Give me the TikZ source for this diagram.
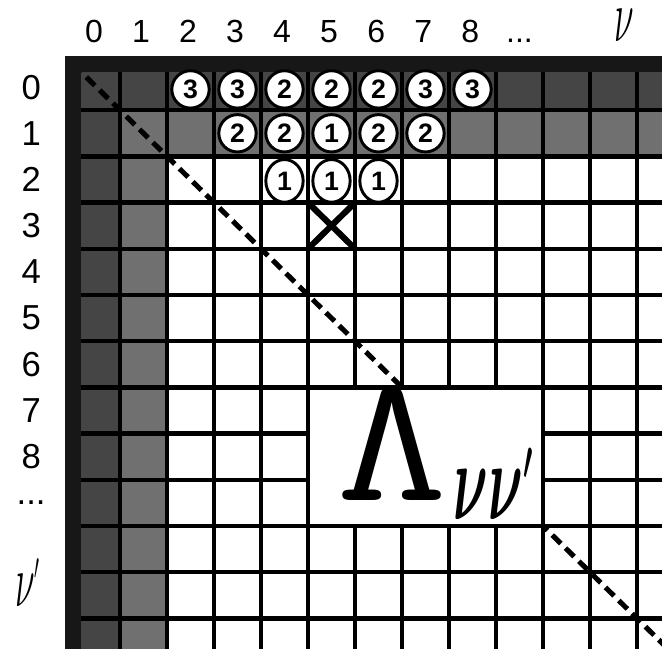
\RequirePackage{fix-cm}
\documentclass[tikz,border=0pt]{standalone}
\usepackage{amsmath,amssymb}
\usepackage[no-math]{fontspec}
\setmainfont{Liberation Sans}
\usepackage{xcolor}
\usepackage{tikz}
\usetikzlibrary{shapes.geometric}

\definecolor{cellDark}{gray}{0.27}
\definecolor{cellMid}{gray}{0.44}
\definecolor{rimBlack}{gray}{0.09}

\begin{document}
\begin{tikzpicture}[
  x=35.25pt, y=-34.65pt,
  gridline/.style={line width=3.2pt, black},
  rim/.style={line width=11.5pt, rimBlack},
  diag/.style={line width=3.8pt, dash pattern=on 9pt off 5pt},
  lbox/.style={line width=3.2pt, draw=black, fill=white},
  cross/.style={line width=4.6pt},
  cnum/.style={circle, draw, fill=white, line width=2.2pt, minimum size=28pt, inner sep=0pt, font=\fontsize{20}{20}\selectfont\bfseries},
  onum/.style={ellipse, draw, fill=white, line width=2.2pt, minimum width=28pt, minimum height=32pt, inner sep=0pt, font=\fontsize{20}{20}\selectfont\bfseries},
  collab/.style={anchor=base, inner sep=0pt, font=\fontsize{24}{24}\selectfont},
  rowlab/.style={inner sep=0pt, font=\fontsize{26}{26}\selectfont},
  nulab/.style={inner sep=0pt, font=\fontsize{56}{56}\selectfont},
  lamtxt/.style={anchor=base, inner sep=0pt, font=\fontsize{135}{135}\selectfont},
  lamsub/.style={anchor=base west, inner sep=0pt, font=\boldmath\fontsize{84}{84}\selectfont}
]
\useasboundingbox (-1.553,-1.385) rectangle (12.532,12.641);
\clip (-1.553,-1.385) rectangle (12.532,12.641);

\fill[cellDark] (0,0) rectangle (13,1);
\fill[cellDark] (0,0) rectangle (1,13);
\fill[cellMid] (1,1) rectangle (13,2);
\fill[cellMid] (1,1) rectangle (2,13);

\foreach \k in {1,...,12} {
  \draw[gridline] (\k,0) -- (\k,13);
  \draw[gridline] (0,\k) -- (13,\k);
}

\draw[diag] (0,0) -- (13,13);
\draw[rim] (0,13) -- (0,0) -- (13,0);

\draw[lbox] (5,7) rectangle (10,10);
\draw[cross] (5,3) -- (6,4) (6,3) -- (5,4);

\foreach \c/\v in {2/3,3/3,4/2,5/2,6/2,7/3,8/3}
  \node[cnum] (top\c) at ({\c+0.5},0.55) {\v};
\foreach \c/\v in {3/2,4/2,5/1,6/2,7/2}
  \node[cnum] (mid\c) at ({\c+0.5},1.5) {\v};
\foreach \c in {4,5,6}
  \node[onum] (low\c) at ({\c+0.5},2.53) {1};

\foreach \i in {0,...,8}
  \node[collab] (col\i) at ({\i+0.45},-0.46) {\i};
\node[collab] (coldots) at (9.5,-0.46) {...};
\node[nulab, anchor=base] (colnu) at (11.72,-0.48) {\scalebox{0.48}[1]{$\nu$}};

\foreach \j in {0,...,8}
  \node[rowlab] (row\j) at (-0.89,{\j+0.5}) {\j};
\node[rowlab] (rowdots) at (-0.89,9.5) {...};
\node[nulab, anchor=base west] (rownu) at (-1.234,11.75) {\scalebox{0.48}[1]{$\nu^{\scriptscriptstyle\prime}$}};

\node[lamtxt] (lam) at (6.78,9.44) {\scalebox{1.2}[1]{$\mathtt{\Lambda}$}};
\node[lamsub] (lamnu) at (8.1,9.87) {\scalebox{0.48}[1]{$\nu\nu^{\scriptscriptstyle\prime}$}};
\end{tikzpicture}
\end{document}
